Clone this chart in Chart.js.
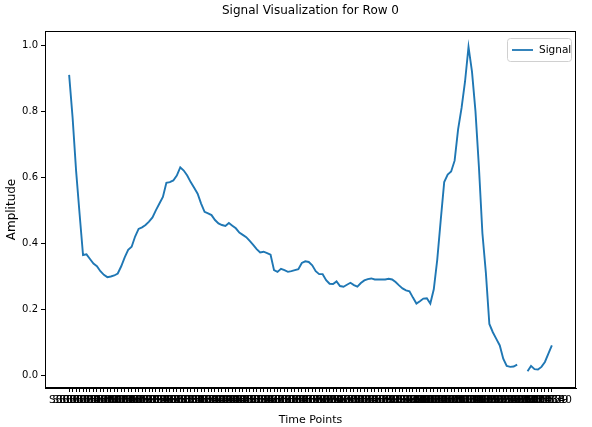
<!DOCTYPE html>
<html><head><meta charset="utf-8">
<script src="https://cdn.jsdelivr.net/npm/chart.js@4"></script>
<style>html,body{margin:0;padding:0;background:#fff}canvas{display:block}</style>
</head><body>
<canvas id="c" width="592" height="427"></canvas>
<script>
// Row 0 of the signal table, 140 time points (two missing near the end)
const amplitude=[
  0.91,0.78,0.62,0.49,0.364,0.366,0.352,0.338,0.33,0.315,
  0.304,0.297,0.299,0.302,0.308,0.33,0.357,0.38,0.389,0.42,
  0.443,0.448,0.455,0.465,0.478,0.5,0.52,0.54,0.583,0.585,
  0.59,0.605,0.63,0.62,0.605,0.585,0.568,0.55,0.52,0.495,
  0.49,0.485,0.47,0.46,0.455,0.452,0.461,0.453,0.445,0.432,
  0.425,0.418,0.407,0.395,0.382,0.372,0.374,0.37,0.365,0.318,
  0.313,0.322,0.318,0.313,0.315,0.318,0.321,0.34,0.345,0.343,
  0.333,0.315,0.306,0.306,0.288,0.277,0.276,0.284,0.27,0.268,
  0.274,0.28,0.273,0.268,0.279,0.287,0.291,0.293,0.29,0.29,
  0.29,0.29,0.292,0.29,0.282,0.272,0.263,0.257,0.254,0.235,
  0.217,0.224,0.232,0.233,0.217,0.26,0.35,0.47,0.585,0.608,
  0.617,0.65,0.745,0.81,0.89,0.995,0.92,0.8,0.63,0.43,
  0.31,0.155,0.13,0.11,0.09,0.05,0.028,0.025,0.026,0.032,
  null,null,0.012,0.028,0.018,0.017,0.025,0.04,0.065,0.09
];
const timeLabels=amplitude.map((_,i)=>'S'+String(i+1).padStart(5,'0'));
const yTicks=[0,0.2,0.4,0.6,0.8,1.0];

const FONT='"DejaVu Sans", sans-serif';
const BLUE='#1f77b4';

// matplotlib-ish frame, title and legend box
const decor={id:'decor',
  afterDraw(chart){
    const {ctx,chartArea:a}=chart;
    ctx.save();
    ctx.strokeStyle='#000';ctx.lineWidth=1;
    ctx.strokeRect(a.left+0.5,a.top+0.5,a.right-a.left-1,a.bottom-a.top-1);
    ctx.fillStyle='#000';ctx.font='12px '+FONT;
    ctx.textAlign='center';ctx.textBaseline='middle';
    ctx.fillText('Signal Visualization for Row 0',(a.left+a.right)/2,11);
    // legend
    const w=64,h=23,x0=a.right-w-5,y0=a.top+7;
    ctx.beginPath();
    if(ctx.roundRect)ctx.roundRect(x0+0.5,y0+0.5,w,h,3);else ctx.rect(x0+0.5,y0+0.5,w,h);
    ctx.fillStyle='rgba(255,255,255,0.8)';ctx.fill();
    ctx.strokeStyle='#d0d0d0';ctx.stroke();
    ctx.beginPath();ctx.strokeStyle=BLUE;ctx.lineWidth=1.8;
    ctx.moveTo(x0+5,y0+h/2+0.5);ctx.lineTo(x0+26,y0+h/2+0.5);ctx.stroke();
    ctx.fillStyle='#000';ctx.font='10.5px '+FONT;ctx.textAlign='left';
    ctx.fillText('Signal',x0+32,y0+h/2+1);
    ctx.restore();
  }};

new Chart(document.getElementById('c'),{type:'line',
  data:{datasets:[{label:'Signal',data:amplitude.map((v,i)=>({x:i,y:v})),
    borderColor:BLUE,borderWidth:1.9,pointRadius:0,tension:0,spanGaps:false,fill:false}]},
  options:{responsive:false,animation:false,devicePixelRatio:1,
    layout:{padding:{top:31,right:16,left:0,bottom:0}},
    plugins:{legend:{display:false},title:{display:false},tooltip:{enabled:false}},
    scales:{
      x:{type:'linear',min:-6.95,max:145.95,
        afterBuildTicks:s=>{s.ticks=timeLabels.map((_,i)=>({value:i}))},
        afterFit:s=>{s.height=39},
        ticks:{autoSkip:false,maxRotation:0,minRotation:0,padding:2,color:'#000',
          font:{size:10.5,family:FONT},callback:v=>timeLabels[v]},
        grid:{drawOnChartArea:false,tickLength:4,color:'#000'},
        border:{display:true,color:'#000'},
        title:{display:true,text:'Time Points',color:'#000',font:{size:11,family:FONT},padding:{top:2,bottom:0}}},
      y:{min:-0.039,max:1.043,
        afterBuildTicks:s=>{s.ticks=yTicks.map(v=>({value:v}))},
        afterFit:s=>{s.width=45},
        ticks:{padding:3,color:'#000',font:{size:10,family:FONT},callback:v=>v.toFixed(1)},
        grid:{drawOnChartArea:false,tickLength:4,color:'#000'},
        border:{display:true,color:'#000'},
        title:{display:true,text:'Amplitude',color:'#000',font:{size:12,family:FONT},padding:{top:5,bottom:0}}}
    }},
  plugins:[decor]
});
</script>
</body></html>
